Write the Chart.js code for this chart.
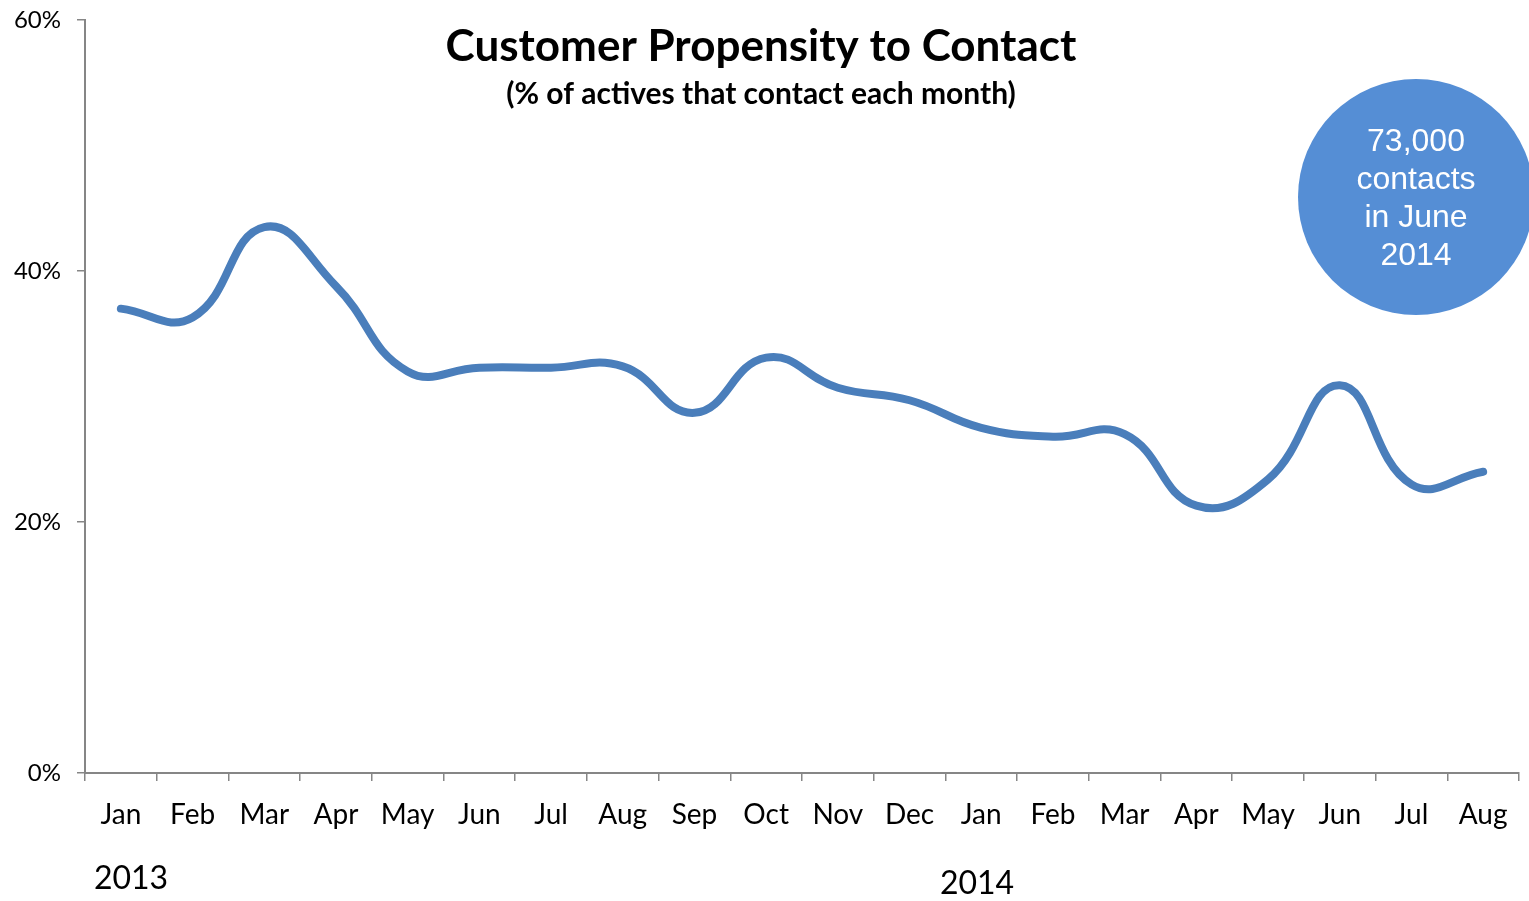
<!DOCTYPE html>
<html>
<head>
<meta charset="utf-8">
<script src="https://cdn.jsdelivr.net/npm/chart.js@4.4.1/dist/chart.umd.min.js"></script>
<style>
  html, body { margin: 0; padding: 0; background: #ffffff; }
  #wrap { width: 1529px; height: 901px; position: relative; }
</style>
</head>
<body>
<div id="wrap"><canvas id="chart" width="1529" height="901"></canvas></div>
<script>
// Monthly share of active customers who contacted us
const months = ['Jan','Feb','Mar','Apr','May','Jun','Jul','Aug','Sep','Oct','Nov','Dec',
                'Jan','Feb','Mar','Apr','May','Jun','Jul','Aug'];
const propensity = [37.0, 36.3, 43.5, 38.8, 32.0, 32.3, 32.3, 32.4, 28.7, 33.1, 30.7, 29.7,
                    27.5, 26.8, 27.0, 21.3, 23.4, 30.9, 23.0, 24.0];
const yTicks = [0, 20, 40, 60];
const yearLabels = ['2013', '2014'];
const titleText = 'Customer Propensity to Contact';
const subtitleText = '(% of actives that contact each month)';
const calloutLines = ['73,000', 'contacts', 'in June', '2014'];

const FONT = 'Lato, "Open Sans", sans-serif';
const AXIS_GREY = '#868686';

const overlay = {
  id: 'overlay',
  afterDraw(chart) {
    const ctx = chart.ctx;
    ctx.save();
    // title block
    ctx.fillStyle = '#000';
    ctx.textAlign = 'center';
    ctx.textBaseline = 'middle';
    ctx.font = 'bold 44px ' + FONT;
    ctx.fillText(titleText, 761, 47);
    ctx.font = 'bold 30px ' + FONT;
    ctx.fillText(subtitleText, 761, 94);

    // year captions under the month axis
    ctx.font = '32px ' + FONT;
    ctx.fillText(yearLabels[0], 131, 879);
    ctx.fillText(yearLabels[1], 977, 884);

    // callout bubble
    ctx.beginPath();
    ctx.arc(1416, 197, 118, 0, Math.PI * 2);
    ctx.fillStyle = '#558ed5';
    ctx.fill();
    ctx.fillStyle = '#ffffff';
    ctx.font = '32px "Liberation Sans", Arial, sans-serif';
    calloutLines.forEach((t, i) => ctx.fillText(t, 1416, 142 + i * 38));
    ctx.restore();
  }
};

new Chart(document.getElementById('chart'), {
  type: 'line',
  data: {
    labels: months,
    datasets: [{
      data: propensity,
      borderColor: '#4a7ebb',
      borderWidth: 8,
      borderCapStyle: 'round',
      borderJoinStyle: 'round',
      tension: 0.45,
      pointRadius: 0,
      fill: false
    }]
  },
  options: {
    responsive: false,
    animation: false,
    layout: { padding: { top: 20, right: 10, left: 0, bottom: 0 } },
    plugins: { legend: { display: false }, tooltip: { enabled: false }, title: { display: false } },
    scales: {
      x: {
        offset: true,
        grid: { display: true, offset: true, drawOnChartArea: false, drawTicks: true, tickLength: 8, color: AXIS_GREY, lineWidth: 1.5 },
        border: { display: true, color: AXIS_GREY, width: 2 },
        ticks: { color: '#000', font: { family: FONT, size: 28 }, padding: 17, maxRotation: 0, autoSkip: false },
        afterFit(scale) { scale.height = 128; scale.paddingLeft = 0; scale.paddingRight = 0; }
      },
      y: {
        min: 0, max: 60,
        afterBuildTicks(scale) { scale.ticks = yTicks.map(v => ({ value: v })); },
        grid: { display: true, drawOnChartArea: false, drawTicks: true, tickLength: 8, color: AXIS_GREY, lineWidth: 1.5 },
        border: { display: true, color: AXIS_GREY, width: 2 },
        ticks: { color: '#000', font: { family: FONT, size: 24 }, padding: 16, callback: v => v + '%' },
        afterFit(scale) { scale.width = 85; scale.paddingTop = 0; scale.paddingBottom = 0; }
      }
    }
  },
  plugins: [overlay]
});
</script>
</body>
</html>
